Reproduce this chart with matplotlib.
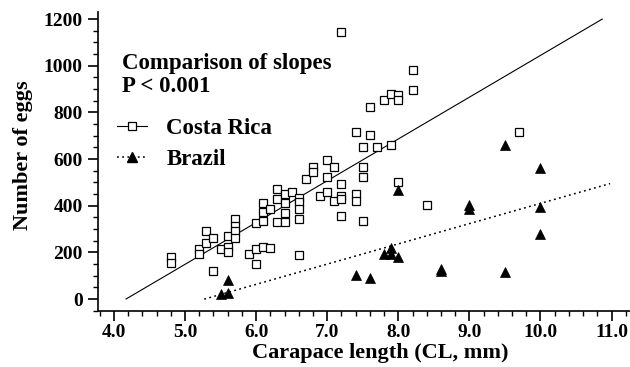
import matplotlib
matplotlib.use("Agg")
import matplotlib.pyplot as plt
from matplotlib.lines import Line2D
from matplotlib.ticker import MultipleLocator, FormatStrFormatter
import numpy as np

# ---------------- data ----------------
cr_x = [4.8, 4.8, 5.2, 5.2, 5.3, 5.3, 5.4, 5.4, 5.5, 5.6, 5.6, 5.6,
        5.7, 5.7, 5.7, 5.7, 5.9, 6.0, 6.0, 6.0, 6.1, 6.1, 6.1, 6.1,
        6.2, 6.2, 6.3, 6.3, 6.3, 6.4, 6.4, 6.4, 6.4, 6.5, 6.6, 6.6,
        6.6, 6.6, 6.6, 6.7, 6.8, 6.8, 6.9, 7.0, 7.0, 7.0, 7.1, 7.1,
        7.2, 7.2, 7.2, 7.2, 7.2, 7.4, 7.4, 7.4, 7.5, 7.5, 7.5, 7.5,
        7.6, 7.6, 7.7, 7.8, 7.9, 7.9, 8.0, 8.0, 8.0, 8.2, 8.2, 8.4, 9.7]
cr_y = [180, 155, 215, 195, 290, 240, 260, 120, 215, 270, 225, 200,
        345, 315, 290, 260, 195, 215, 150, 325, 410, 375, 335, 225,
        385, 218, 470, 430, 330, 450, 410, 370, 330, 460, 435, 415,
        385, 345, 190, 515, 565, 545, 442, 595, 525, 460, 565, 420,
        493, 443, 430, 357, 1143, 715, 450, 420, 650, 568, 525, 333,
        825, 702, 650, 852, 877, 662, 873, 852, 500, 983, 895, 404, 718]

br_x = [5.5, 5.6, 5.6, 7.4, 7.6, 7.8, 7.9, 7.9, 8.0, 8.0, 8.6, 8.6,
        9.0, 9.0, 9.5, 9.5, 10.0, 10.0, 10.0]
br_y = [20, 28, 80, 103, 92, 192, 221, 192, 181, 467, 128, 120,
        403, 386, 661, 116, 560, 396, 278]

# regression lines (slope, intercept, x-range)
cr_slope, cr_intercept, cr_xrange = 179.0, -746.0, (4.17, 10.87)
br_slope, br_intercept, br_xrange = 86.7, -457.0, (5.27, 10.98)

series_labels = ["Costa Rica", "Brazil"]
annotation_lines = ["Comparison of slopes", "P < 0.001"]
x_label = "Carapace length (CL, mm)"
y_label = "Number of eggs"

# ---------------- figure ----------------
plt.rcParams['font.family'] = ['Liberation Serif', 'DejaVu Serif']
plt.rcParams['font.weight'] = 'bold'

W, H = 630, 367
fig = plt.figure(figsize=(W / 100, H / 100), dpi=100)
ax = fig.add_axes([98 / W, (H - 311) / H, (630 - 98) / W, (311 - 12) / H])

ax.set_xlim(3.775, 11.26)
ax.set_ylim(-51, 1230)

for s in ['top', 'right']:
    ax.spines[s].set_visible(False)
for s in ['left', 'bottom']:
    ax.spines[s].set_linewidth(1.2)

# regression lines
lx = np.array(cr_xrange)
ax.plot(lx, cr_slope * lx + cr_intercept, color='black', lw=0.8, zorder=2)
lb = np.array(br_xrange)
ax.plot(lb, br_slope * lb + br_intercept, color='black', lw=1.1,
        linestyle=(0, (1.2, 2.2)), zorder=2)

# points
ax.plot(cr_x, cr_y, linestyle='none', marker='s', markersize=5.6,
        markerfacecolor='white', markeredgecolor='black', markeredgewidth=0.9, zorder=3)
ax.plot(br_x, br_y, linestyle='none', marker='^', markersize=7,
        markerfacecolor='black', markeredgecolor='black', markeredgewidth=0.5, zorder=4)

# ticks
ax.xaxis.set_major_locator(MultipleLocator(1.0))
ax.xaxis.set_minor_locator(MultipleLocator(0.2))
ax.xaxis.set_major_formatter(FormatStrFormatter('%.1f'))
ax.yaxis.set_major_locator(MultipleLocator(200))
ax.yaxis.set_minor_locator(MultipleLocator(50))
ax.tick_params(axis='both', which='major', direction='out', length=7, width=1.2,
               labelsize=14)
ax.tick_params(axis='x', which='major', pad=2.5)
ax.tick_params(axis='y', which='major', pad=4)
ax.tick_params(axis='both', which='minor', direction='out', length=3.5, width=1.0)
for lab in ax.get_xticklabels() + ax.get_yticklabels():
    lab.set_fontweight('bold')

ax.set_xlabel(x_label, fontsize=16, fontweight='bold')
ax.set_ylabel(y_label, fontsize=16, fontweight='bold')
ax.xaxis.set_label_coords((380 - 98) / (630 - 98), -(343 - 311) / (311 - 12))
ax.yaxis.set_label_coords(-(98 - 33) / (630 - 98), (311 - 155) / (311 - 12))

# annotation text
fig.text(122 / W, 1 - 69 / H, annotation_lines[0], fontsize=16.5, fontweight='bold',
         ha='left', va='baseline')
fig.text(122 / W, 1 - 92 / H, annotation_lines[1], fontsize=16.5, fontweight='bold',
         ha='left', va='baseline')

# legend
h_cr = Line2D([], [], color='black', lw=0.8, marker='s', markersize=5.6,
              markerfacecolor='white', markeredgecolor='black', markeredgewidth=0.9)
h_br = Line2D([], [], color='black', lw=1.1, linestyle=(0, (1.2, 2.2)), marker='^',
              markersize=7, markerfacecolor='black', markeredgecolor='black')
leg = fig.legend([h_cr, h_br], series_labels, loc='upper left',
                 bbox_to_anchor=(117 / W, 1 - 118 / H), bbox_transform=fig.transFigure,
                 frameon=False, fontsize=16.5, handlelength=1.3, handletextpad=0.85,
                 labelspacing=0.45, borderpad=0, borderaxespad=0, numpoints=1)
for t in leg.get_texts():
    t.set_fontweight('bold')

fig.savefig('out.png', dpi=100)
